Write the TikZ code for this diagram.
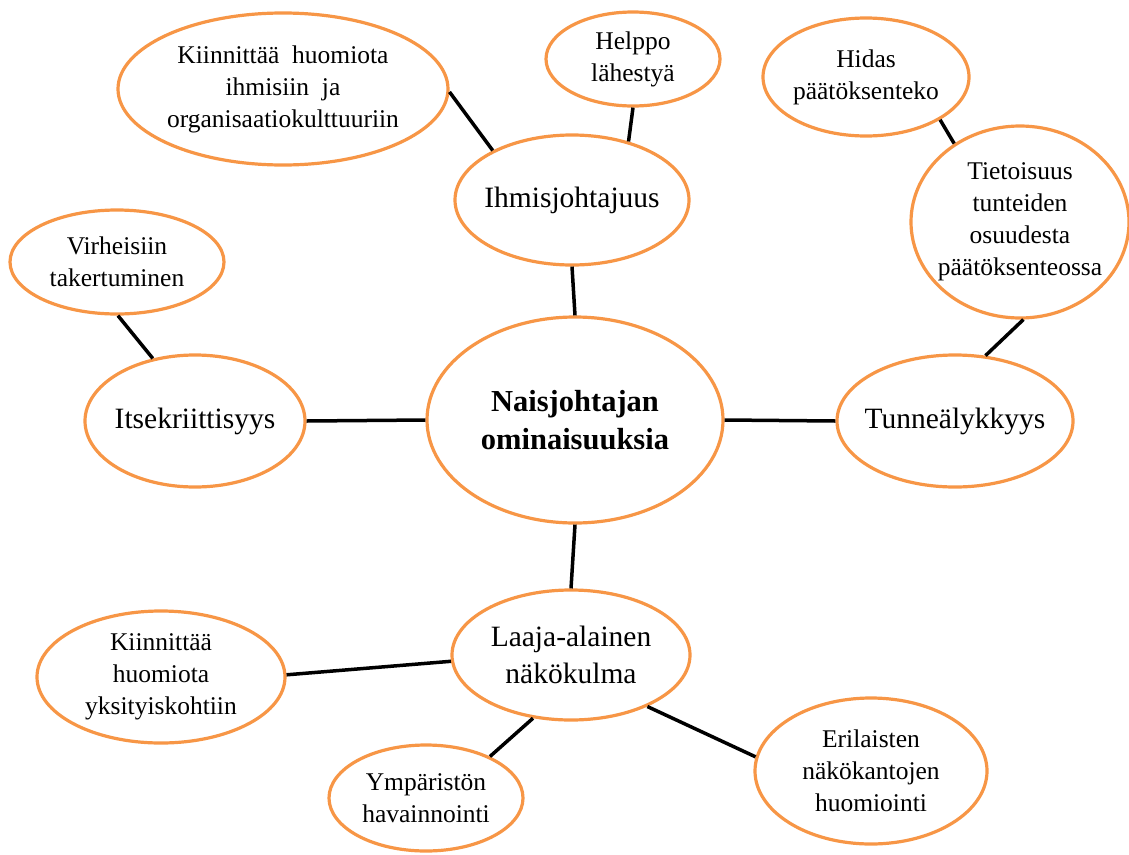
\documentclass[tikz,border=0pt]{standalone}
\usepackage{fontspec}
\setmainfont{Liberation Serif}
\usetikzlibrary{shapes.geometric}
\definecolor{orng}{HTML}{F79646}
\tikzset{
  bub/.style={ellipse, draw=orng, line width=3.2pt, fill=white, inner sep=0pt},
  stxt/.style={label={[align=center, font=\fontsize{25.5}{32}\selectfont]center:#1}},
  mtxt/.style={label={[align=center, font=\fontsize{29.5}{37}\selectfont]center:#1}},
  btxt/.style={label={[align=center, font=\bfseries\fontsize{30.5}{38}\selectfont]center:#1}},
  link/.style={draw=black, line width=3.5pt}
}
\begin{document}
\begin{tikzpicture}[x=1pt,y=-1pt]
\useasboundingbox (0,0) rectangle (1129,854);
% central
\node[bub, minimum width=296pt, minimum height=206pt, btxt={Naisjohtajan\\ominaisuuksia}] (c) at (575,420) {};
% main branches
\node[bub, minimum width=234pt, minimum height=130pt, mtxt={Ihmisjohtajuus}] (ih) at (572,200) {};
\node[bub, minimum width=220pt, minimum height=132pt, mtxt={Itsekriittisyys}] (it) at (195,421) {};
\node[bub, minimum width=236pt, minimum height=132pt, mtxt={Tunneälykkyys}] (tu) at (955,421) {};
\node[bub, minimum width=238pt, minimum height=130pt, mtxt={Laaja-alainen\\näkökulma}] (la) at (571,655) {};
% leaves
\node[bub, minimum width=174pt, minimum height=94pt, stxt={Helppo\\lähestyä}] (he) at (633,59) {};
\node[bub, minimum width=330pt, minimum height=152pt, stxt={Kiinnittää\hspace{0.5em}huomiota\\ihmisiin\hspace{0.5em}ja\\organisaatiokulttuuriin}] (ki) at (283,89) {};
\node[bub, minimum width=206pt, minimum height=118pt, stxt={Hidas\\päätöksenteko}] (hi) at (866,77) {};
\node[bub, minimum width=218pt, minimum height=192pt, stxt={Tietoisuus\\tunteiden\\osuudesta\\päätöksenteossa}] (ti) at (1020,222) {};
\node[bub, minimum width=214pt, minimum height=104pt, stxt={Virheisiin\\takertuminen}] (vi) at (117,262) {};
\node[bub, minimum width=248pt, minimum height=132pt, stxt={Kiinnittää\\huomiota\\yksityiskohtiin}] (yk) at (161,677) {};
\node[bub, minimum width=194pt, minimum height=106pt, stxt={Ympäristön\\havainnointi}] (ym) at (426,798) {};
\node[bub, minimum width=232pt, minimum height=146pt, stxt={Erilaisten\\näkökantojen\\huomiointi}] (er) at (871,771) {};
% connectors
\draw[link] (c.90) -- (ih.-90);
\draw[link] (c.180) -- (it.0);
\draw[link] (c.0) -- (tu.180);
\draw[link] (c.-90) -- (la.90);
\draw[link] (ih.46) -- (he.-90);
\draw[link] (ih.148) -- (ki.-1);
\draw[link] (it.124) -- (vi.-89);
\draw[link] (tu.65) -- (ti.-88);
\draw[link] (ti.130) -- (hi.-30);
\draw[link] (la.183) -- (yk.1);
\draw[link] (la.-121) -- (ym.33);
\draw[link] (la.-34) -- (er.173);
\end{tikzpicture}
\end{document}
